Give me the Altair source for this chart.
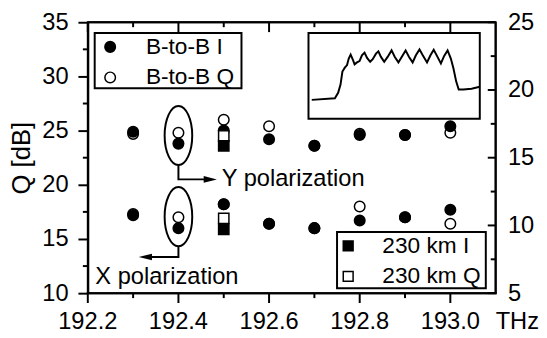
import altair as alt
import pandas as pd

FONT = "Liberation Sans, Arial, sans-serif"
W, H = 414, 275
FS = 24

# ---------------- data ----------------
freq = [192.3, 192.4, 192.5, 192.6, 192.7, 192.8, 192.9, 193.0]
b2b_I_ypol = [24.9, 23.8, 25.0, 24.2, 23.6, 24.6, 24.6, 25.4]
b2b_Q_ypol = [24.7, 24.8, 26.0, 25.4, 23.6, 24.7, 24.6, 24.8]
b2b_I_xpol = [17.2, 16.0, 18.2, 16.4, 16.0, 16.7, 17.0, 17.7]
b2b_Q_xpol = [17.3, 17.0, 18.2, 16.4, 16.0, 18.0, 17.0, 16.4]

freq_230 = [192.5]
km_I_ypol = [23.6]
km_Q_ypol = [24.5]
km_I_xpol = [15.9]
km_Q_xpol = [16.9]

# inset spectrum (normalised units inside the inset box)
spec_u = [0.019, 0.154, 0.173, 0.187, 0.198, 0.212, 0.225, 0.235, 0.246, 0.260,
          0.269, 0.283, 0.298, 0.312, 0.327, 0.342, 0.360, 0.375, 0.394, 0.408,
          0.423, 0.442, 0.462, 0.485, 0.504, 0.525, 0.544, 0.567, 0.587, 0.608,
          0.627, 0.648, 0.667, 0.692, 0.712, 0.731, 0.750, 0.773, 0.792, 0.812,
          0.831, 0.846, 0.862, 0.877, 0.904, 0.952, 1.000]
spec_v = [0.221, 0.240, 0.304, 0.399, 0.551, 0.597, 0.627, 0.703, 0.749, 0.684,
          0.635, 0.658, 0.673, 0.741, 0.772, 0.711, 0.665, 0.696, 0.760, 0.787,
          0.722, 0.665, 0.722, 0.798, 0.722, 0.658, 0.722, 0.798, 0.722, 0.658,
          0.741, 0.810, 0.741, 0.658, 0.741, 0.806, 0.734, 0.646, 0.734, 0.798,
          0.703, 0.589, 0.437, 0.342, 0.342, 0.350, 0.373]
inset_f = [192.687, 193.065]   # inset frame, in axis units
inset_q = [26.09, 34.0]

x_major = [192.2, 192.4, 192.6, 192.8, 193.0]
x_minor = [192.3, 192.5, 192.7, 192.9]
y_major = [10, 15, 20, 25, 30, 35]
y_minor = [12.5, 17.5, 22.5, 27.5, 32.5]
r_major_vals = [5, 10, 15, 20, 25]          # right-hand axis
r_minor_vals = [7.5, 12.5, 17.5, 22.5]
x_unit = "THz"

# annotations
ellipse_f = [192.4, 192.4]
ellipse_q = [24.55, 17.06]
arrow_id = ["Y", "Y", "Y", "X", "X", "X"]
arrow_k = [0, 1, 2, 0, 1, 2]
arrow_f = [192.4, 192.4, 192.46, 192.4, 192.4, 192.335]
arrow_q = [21.82, 20.50, 20.50, 14.34, 13.34, 13.34]
head_f = [192.4703, 192.327]
head_q = [20.50, 13.34]
head_dir = ["right", "left"]
note_text = ["Y polarization", "X polarization"]
note_f = [192.4957, 192.2167]
note_q = [20.53, 11.48]

legend1_labels = ["B-to-B I", "B-to-B Q"]
legend2_labels = ["230 km I", "230 km Q"]

# ---------------- tables ----------------
circ_df = pd.DataFrame({
    "f": freq * 2 + freq * 2,
    "Q": b2b_Q_ypol + b2b_Q_xpol + b2b_I_ypol + b2b_I_xpol,
    "comp": ["Q"] * 16 + ["I"] * 16,
})
sq_df = pd.DataFrame({
    "f": freq_230 * 4,
    "Q": km_Q_ypol + km_Q_xpol + km_I_ypol + km_I_xpol,
    "comp": ["Q", "Q", "I", "I"],
})

x_scale = alt.Scale(domain=[192.2, 193.1], nice=False, zero=False)
y_scale = alt.Scale(domain=[10, 35], nice=False, zero=False)
XF = alt.X("f:Q", scale=x_scale, axis=None)
YQ = alt.Y("Q:Q", scale=y_scale, axis=None)

y_axis = alt.Axis(
    values=y_major, format="d", orient="left",
    tickSize=10, tickWidth=2, tickColor="black", domainColor="black", domainWidth=2,
    labelFont=FONT, labelFontSize=FS, labelColor="black", labelPadding=10,
    labelFlush=False, labelOverlap=False, grid=False,
    title="Q [dB]", titleFont=FONT, titleFontSize=26, titleFontWeight="normal",
    titleColor="black", titleX=-67, titleY=H / 2, titleAngle=-90,
    titleAlign="center", titleBaseline="middle",
)
right_axis = alt.Axis(
    orient="right", values=[10, 16.25, 22.5, 28.75, 35],
    labelExpr="format(5 + (datum.value - 10) / 1.25, 'd')",
    ticks=False, domain=False, labelPadding=12, labelFont=FONT, labelFontSize=FS,
    labelColor="black", labelFlush=False, labelOverlap=False, grid=False, title=None,
)

fill_scale = alt.Scale(domain=["I", "Q"], range=["black", "white"])

circles = alt.Chart(circ_df).mark_point(
    shape="circle", filled=True, size=115, stroke="black", strokeWidth=1.5, opacity=1
).encode(
    x=XF,
    y=alt.Y("Q:Q", scale=y_scale, axis=y_axis),
    fill=alt.Fill("comp:N", scale=fill_scale, legend=None),
)
squares = alt.Chart(sq_df).mark_point(
    shape="square", filled=True, size=110, stroke="black", strokeWidth=1.5, opacity=1
).encode(x=XF, y=YQ, fill=alt.Fill("comp:N", scale=fill_scale, legend=None))


def xrule(vals, y0, y1):
    return alt.Chart(pd.DataFrame({"f": vals})).mark_rule(color="black", strokeWidth=2).encode(
        x=XF, y=alt.value(y0), y2=alt.value(y1))


def yrule(vals, x0, x1):
    return alt.Chart(pd.DataFrame({"Q": vals})).mark_rule(color="black", strokeWidth=2).encode(
        y=YQ, x=alt.value(x0), x2=alt.value(x1))


def rrule(vals, x0, x1, axis=None):
    return alt.Chart(pd.DataFrame({"r": vals})).transform_calculate(
        Q="10 + (datum.r - 5) * 1.25").mark_rule(color="black", strokeWidth=2).encode(
        y=alt.Y("Q:Q", scale=y_scale, axis=axis), x=alt.value(x0), x2=alt.value(x1))


def frame_line(x0, x1, y0, y1):
    return alt.Chart(pd.DataFrame({"a": [0]})).mark_rule(color="black", strokeWidth=2).encode(
        x=alt.value(x0), x2=alt.value(x1), y=alt.value(y0), y2=alt.value(y1))


# frequency axis (bottom): domain line, ticks and labels drawn through the x scale
x_labels = alt.Chart(pd.DataFrame({"f": x_major})).transform_calculate(
    lab="format(datum.f, '.1f')").mark_text(
    align="center", baseline="alphabetic", font=FONT, fontSize=FS, color="black").encode(
    x=XF, y=alt.value(H + 36), text="lab:N")

tick_layers = [
    xrule(x_major, 0, 10), xrule(x_minor, 0, 5),      # top, inward
    xrule(x_major, H, H + 10), xrule(x_minor, H, H + 5),  # bottom, outward
    yrule(y_minor, -5, 0),                             # left minor, outward
    rrule(r_major_vals, W - 8, W, right_axis),         # right, inward
    rrule(r_minor_vals, W - 5, W),
    frame_line(0, W, 0, 0), frame_line(W, W, 0, H),    # top and right frame
    frame_line(-1, W + 1, H, H),                       # bottom axis line
    x_labels,
]

unit_label = alt.Chart(pd.DataFrame({"t": [x_unit]})).mark_text(
    align="left", baseline="alphabetic", font=FONT, fontSize=FS, color="black").encode(
    x=alt.value(W), y=alt.value(H + 36), text="t:N")

# annotations
ELL = "M -0.467 0 A 0.467 1 0 1 1 0.467 0 A 0.467 1 0 1 1 -0.467 0 Z"
ellipses = alt.Chart(pd.DataFrame({"f": ellipse_f, "Q": ellipse_q})).mark_point(
    shape=ELL, size=3600, filled=False, stroke="black", strokeWidth=2, opacity=1).encode(x=XF, y=YQ)
arrows = alt.Chart(pd.DataFrame({"id": arrow_id, "k": arrow_k, "f": arrow_f, "Q": arrow_q})).mark_line(
    color="black", strokeWidth=2).encode(x=XF, y=YQ, detail="id:N", order="k:Q")
heads = alt.Chart(pd.DataFrame({"f": head_f, "Q": head_q, "dir": head_dir})).mark_point(
    filled=True, size=180, color="black", opacity=1).encode(
    x=XF, y=YQ,
    shape=alt.Shape("dir:N", scale=alt.Scale(domain=["right", "left"],
                    range=["M 1 0 L -1 -0.5 L -1 0.5 Z", "M -1 0 L 1 -0.5 L 1 0.5 Z"]), legend=None))
notes = alt.Chart(pd.DataFrame({"f": note_f, "Q": note_q, "t": note_text})).mark_text(
    align="left", baseline="middle", font=FONT, fontSize=FS, color="black").encode(x=XF, y=YQ, text="t:N")

# inset
inset_box = alt.Chart(pd.DataFrame({"f": [inset_f[0]], "f2": [inset_f[1]],
                                    "Q": [inset_q[0]], "Q2": [inset_q[1]]})).mark_rect(
    fill="white", stroke="black", strokeWidth=2).encode(x=XF, x2="f2:Q", y=YQ, y2="Q2:Q")
spec_line = alt.Chart(pd.DataFrame({"u": spec_u, "v": spec_v, "i": list(range(len(spec_u)))})).transform_calculate(
    f=f"{inset_f[0]} + datum.u * {inset_f[1] - inset_f[0]}",
    Q=f"{inset_q[0]} + datum.v * {inset_q[1] - inset_q[0]}",
).mark_line(color="black", strokeWidth=2).encode(x=XF, y=YQ, order="i:Q")


# boxed legends
def box(x0, x1, y0, y1):
    return alt.Chart(pd.DataFrame({"a": [0]})).mark_rect(fill="white", stroke="black", strokeWidth=2).encode(
        x=alt.value(x0), x2=alt.value(x1), y=alt.value(y0), y2=alt.value(y1))


def legend_row(label, shape, fill, sx, sy, tx, size):
    d = pd.DataFrame({"label": [label]})
    sym = alt.Chart(d).mark_point(shape=shape, filled=True, fill=fill, stroke="black", strokeWidth=1.5,
                                  size=size, opacity=1).encode(x=alt.value(sx), y=alt.value(sy))
    txt = alt.Chart(d).mark_text(align="left", baseline="middle", font=FONT, fontSize=23,
                                 color="black").encode(x=alt.value(tx), y=alt.value(sy), text="label:N")
    return [sym, txt]


legend_layers = [box(7, 156, 11, 67)]
legend_layers += legend_row(legend1_labels[0], "circle", "black", 22.7, 25, 59, 115)
legend_layers += legend_row(legend1_labels[1], "circle", "white", 22.7, 56, 59, 115)
legend_layers += [box(253, 404, 213, 270)]
legend_layers += legend_row(legend2_labels[0], "square", "black", 264.3, 227, 299, 100)
legend_layers += legend_row(legend2_labels[1], "square", "white", 264.3, 258, 299, 100)

chart = alt.layer(
    circles, *tick_layers, unit_label, inset_box, spec_line, ellipses, arrows, heads, notes,
    squares, *legend_layers
).properties(
    width=W, height=H, autosize="none",
    padding={"left": 81, "top": 12, "right": 44, "bottom": 40},
).configure_view(stroke="black", strokeWidth=2)

chart.save("out.html", embed_options={"renderer": "svg", "actions": False})
